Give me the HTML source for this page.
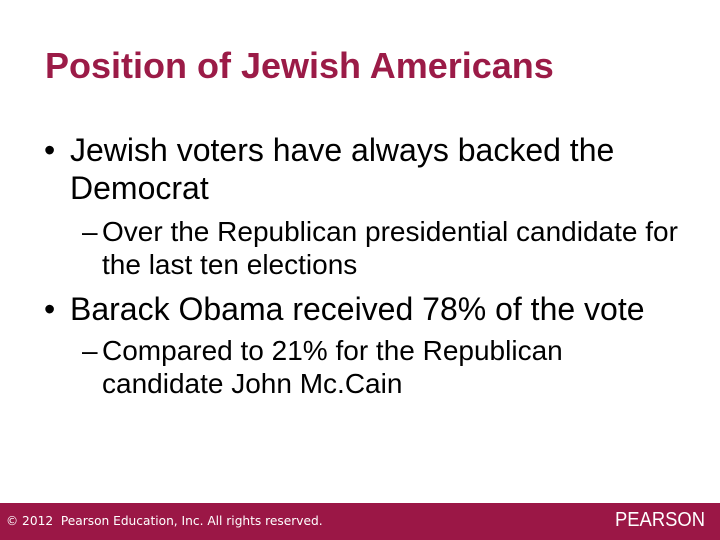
<!DOCTYPE html>
<html><head><meta charset="utf-8"><style>
body{margin:0;width:720px;height:540px;overflow:hidden;background:#fff;font-family:"Liberation Sans",Arial,sans-serif;position:relative}
.t{position:absolute;white-space:nowrap;color:#000}
.b{font-size:32px;line-height:38px}
.s{font-size:28px;line-height:33px}
</style></head><body>
<div class="t" style="left:45px;top:45px;font-size:36px;font-weight:bold;color:#9b1b47">Position of Jewish Americans</div>
<div class="t b" style="left:44px;top:131px">•</div>
<div class="t b" style="left:70px;top:131px">Jewish voters have always backed the<br>Democrat</div>
<div class="t s" style="left:82px;top:215px">–</div>
<div class="t s" style="left:102px;top:215px">Over the Republican presidential candidate for<br>the last ten elections</div>
<div class="t b" style="left:44px;top:290px">•</div>
<div class="t b" style="left:70px;top:290px">Barack Obama received 78% of the vote</div>
<div class="t s" style="left:82px;top:334px">–</div>
<div class="t s" style="left:102px;top:334px">Compared to 21% for the Republican<br>candidate John Mc.Cain</div>
<div style="position:absolute;left:0;top:503px;width:720px;height:37px;background:#9b1746">
<div class="t" style="left:6px;top:11px;font-size:12.2px;color:#fff;font-family:'DejaVu Sans',sans-serif">© 2012&nbsp; Pearson Education, Inc. All rights reserved.</div>
<div class="t" style="left:615px;top:6px;font-size:20px;color:#fff;transform:scaleX(0.92);transform-origin:left">PEARSON</div>
</div>
</body></html>
